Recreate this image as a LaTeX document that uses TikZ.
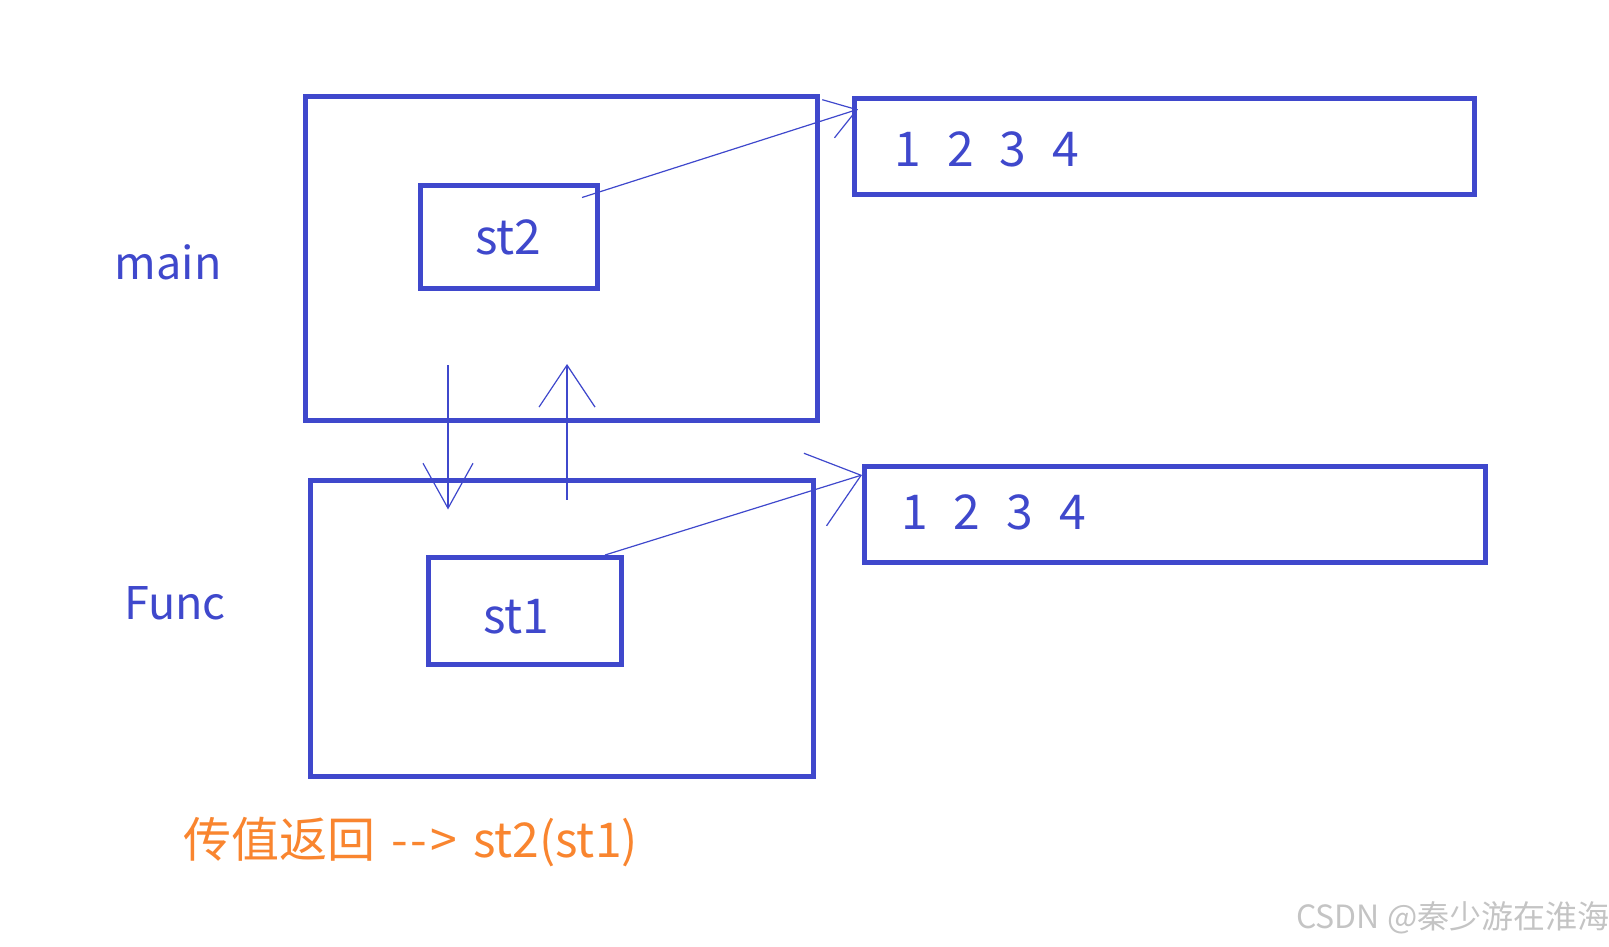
\documentclass[tikz,border=0pt]{standalone}
\usepackage{fontspec}
\usepackage{tikz}
\usetikzlibrary{
  arrows.meta,
  positioning
}
\newfontfamily\cjk{Noto Sans CJK SC}
\definecolor{stBlue}{HTML}{3F48CC}
\definecolor{stOrange}{HTML}{F9852F}
\definecolor{stMark}{HTML}{C4C4C4}
\newcommand{\cellgap}{\hspace{26pt}}
\tikzset{
  stnode/.style={
    draw=stBlue, line width=5pt, inner sep=0pt, outer sep=0pt,
    font=\cjk\fontsize{48}{56}\selectfont, text=stBlue
  },
  stackfrm/.style={stnode, minimum width=512pt, minimum height=324pt},
  objbox/.style={stnode, minimum width=177pt, minimum height=103pt},
  arrbox/.style={stnode, minimum width=620pt, minimum height=96pt},
  objtxt/.style={inner sep=0pt, font=\cjk\fontsize{48}{56}\selectfont, text=stBlue},
  cellstxt/.style={objtxt},
  lbl/.style={objtxt, font=\cjk\fontsize{45}{52}\selectfont},
  captxt/.style={inner sep=0pt, font=\cjk\fontsize{48}{56}\selectfont, text=stOrange},
  wmark/.style={inner sep=0pt, font=\cjk\fontsize{32}{36}\selectfont, text=stMark},
  flow/.style={draw=stBlue, line width=1.2pt}
}

\begin{document}
\begin{tikzpicture}[x=1pt, y=-1pt]
  \useasboundingbox (0,0) rectangle (1609,947);
  % stack frames
  \node[stackfrm] (mn) at (561,258.5) {};
  \node[stackfrm, minimum width=503pt, minimum height=296pt] (fn) at (561.5,628) {};
  \node[lbl, left=83pt of mn, yshift=-4pt] (mlbl) {main};
  \node[lbl, left=84pt of fn, yshift=24.5pt] (flbl) {Func};
  % objects
  \node[objbox] (s2) at (508.5,237) {st2};
  \node[objbox, minimum width=193pt, minimum height=107pt,
        label={[objtxt, xshift=-8pt, yshift=-6pt]center:st1}] (s1) at (524.5,610.5) {};
  % heap arrays
  \node[arrbox] (a2) at (1164.5,146.8) {};
  \node[arrbox, minimum width=621pt] (a1) at (1174.5,514.5) {};
  \node[cellstxt, anchor=west] (d2) at ([xshift=40pt, yshift=-3pt]a2.west) {1\cellgap 2\cellgap 3\cellgap 4};
  \node[cellstxt, anchor=west] (d1) at ([xshift=37pt, yshift=2pt]a1.west) {1\cellgap 2\cellgap 3\cellgap 4};
  % pointers
  \draw[flow, -{Straight Barb[length=30pt,width=40pt]}] ([xshift=-15pt,yshift=-12pt]s2.north east) -- ([xshift=3.5pt,yshift=-10.5pt]a2.north west);
  \draw[flow, -{Straight Barb[length=48pt,width=76pt]}] ([xshift=-16pt,yshift=2pt]s1.north east) -- ([xshift=-2pt,yshift=-8.5pt]a1.north west);
  % call and return
  \draw[flow, -{Straight Barb[length=45pt,width=50pt]}] ([xshift=-113pt,yshift=55.5pt]mn.south) -- ([xshift=-113.5pt,yshift=-29.5pt]fn.north);
  \draw[flow, -{Straight Barb[length=42pt,width=56pt]}] ([xshift=5.5pt,yshift=-19.5pt]fn.north) -- ([xshift=6pt,yshift=56.5pt]mn.south);
  \node[captxt, anchor=west] (cap) at (183,842) {传值返回\hspace{16pt}-\kern3pt-\kern3pt>\hspace{16pt}st2(st1)};
  \node[wmark, anchor=west] (wm) at (1296,918) {CSDN @秦少游在淮海};
\end{tikzpicture}
\end{document}
